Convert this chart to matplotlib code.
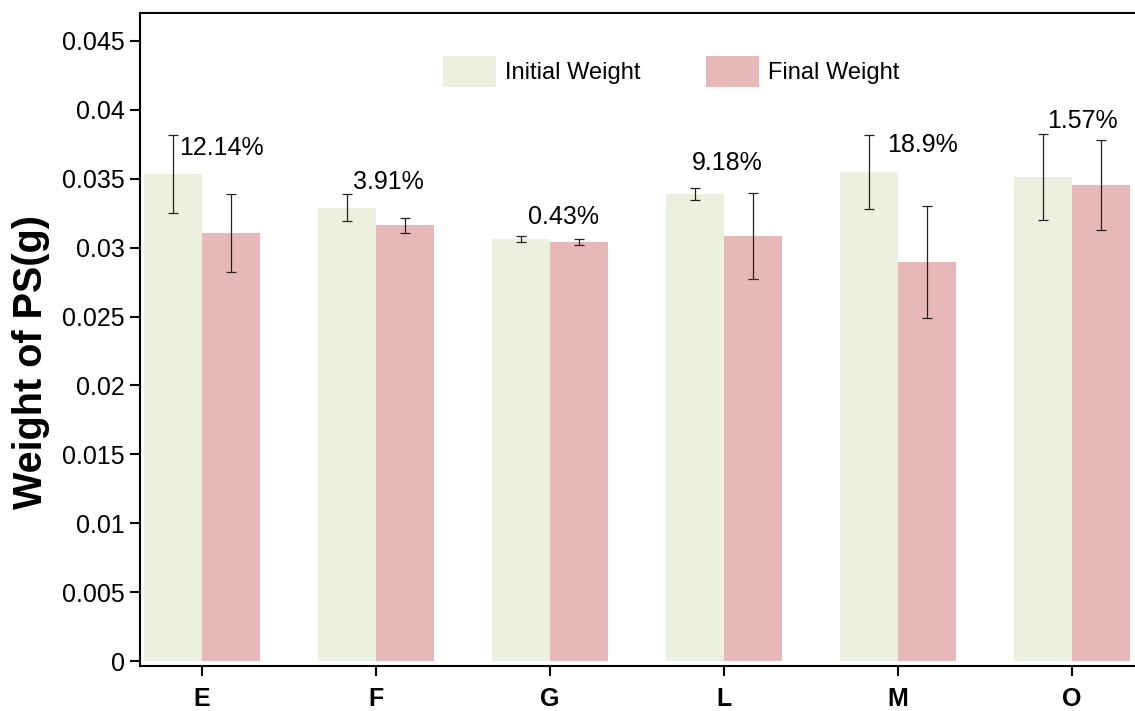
import numpy as np
import matplotlib
matplotlib.use("Agg")
import matplotlib.pyplot as plt

plt.rcParams["font.family"] = ["Liberation Sans", "DejaVu Sans"]

# %% data
groups = ["E", "F", "G", "L", "M", "O"]
initial = [0.03535, 0.03288, 0.03063, 0.03390, 0.03549, 0.03513]
initial_err = [0.00280, 0.00098, 0.00022, 0.00044, 0.00270, 0.00310]
final = [0.03106, 0.03164, 0.03041, 0.03085, 0.02896, 0.03455]
final_err = [0.00283, 0.00054, 0.00025, 0.00310, 0.00410, 0.00330]
loss_labels = ["12.14%", "3.91%", "0.43%", "9.18%", "18.9%", "1.57%"]
label_y = [0.03723, 0.03477, 0.03223, 0.03615, 0.03745, 0.03920]
label_dx = [0.11, 0.07, 0.08, 0.02, 0.14, 0.06]

c_init = "#EBF1DE"
c_final = "#E6B9B8"

# %%
fig = plt.figure(figsize=(11.35, 7.11), dpi=100)
ax = fig.add_axes([0.1233, 0.0633, 0.8978, 0.9184])

x = np.arange(len(groups))
w = 0.335
ekw = dict(ecolor="#222222", elinewidth=0.9, capthick=0.9)
ax.bar(x - w / 2, initial, w, yerr=initial_err, color=c_init,
       capsize=3.6, error_kw=ekw, label="Initial Weight")
ax.bar(x + w / 2, final, w, yerr=final_err, color=c_final,
       capsize=3.6, error_kw=ekw, label="Final Weight")

for xi, dx, yy, t in zip(x, label_dx, label_y, loss_labels):
    ax.text(xi + dx, yy, t, ha="center", va="center", fontsize=18)

ax.set_xlim(-0.356, 5.5)
ax.set_ylim(-0.00036, 0.04703)
ax.set_yticks(np.arange(0, 0.0451, 0.005))
ax.set_yticklabels(["0", "0.005", "0.01", "0.015", "0.02", "0.025",
                    "0.03", "0.035", "0.04", "0.045"])
ax.set_xticks(x)
ax.set_xticklabels(groups, fontweight="bold")
ax.tick_params(axis="y", labelsize=18, length=7, width=1.5, pad=4)
ax.tick_params(axis="x", labelsize=18, length=7, width=1.5, pad=8)

for s in ["left", "bottom", "top"]:
    ax.spines[s].set_linewidth(1.5)
ax.spines["right"].set_visible(False)

ax.set_ylabel("Weight of PS(g)", fontsize=28.5, fontweight="bold")
ax.yaxis.set_label_coords(-0.088, 0.4655)

ax.legend(loc="upper left", bbox_to_anchor=(0.286, 0.952), ncol=2,
          frameon=False, fontsize=17, handlelength=2.25, handleheight=1.6,
          handletextpad=0.35, columnspacing=2.8, borderpad=0)

fig.savefig("out.png", dpi=100)
